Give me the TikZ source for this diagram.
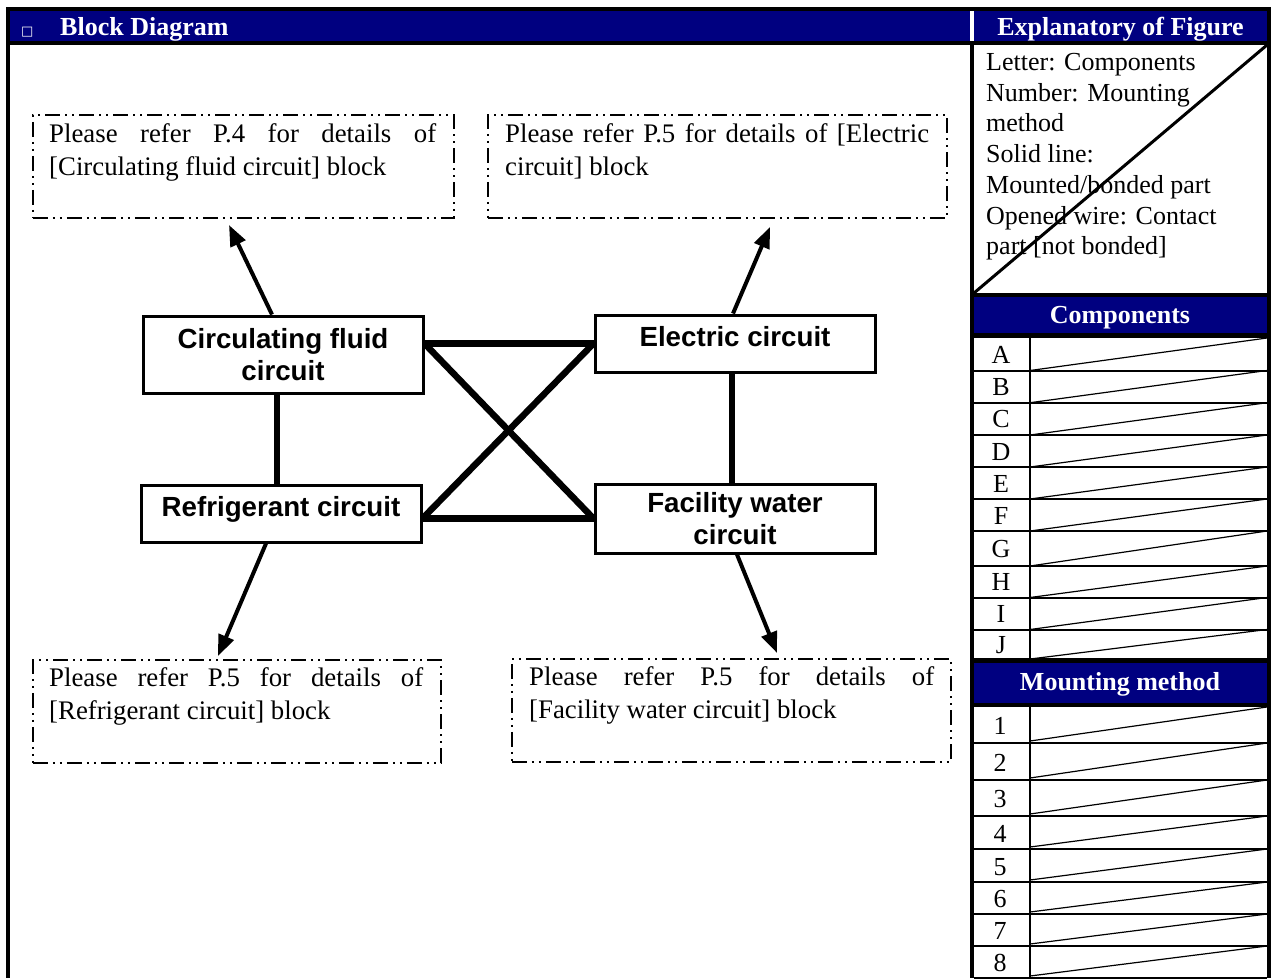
\documentclass[tikz,border=0pt]{standalone}
\usepackage{fontspec}
\setmainfont{Liberation Serif}
\newfontfamily\blockfont{Liberation Sans}
\newfontfamily\symfont{DejaVu Sans}
\usetikzlibrary{arrows.meta,calc}
\definecolor{navy}{RGB}{0,0,128}
\tikzset{
  serif/.style={font=\fontsize{26.8}{33.5}\selectfont, inner sep=0pt},
  headtext/.style={font=\fontsize{26}{30}\selectfont\bfseries, text=white, inner sep=0pt},
  blockbox/.style={draw, line width=3pt, font=\fontsize{27.7}{32.3}\selectfont\blockfont\bfseries, align=center, minimum width=280pt, inner sep=0pt},
  oneline/.style={text height=20pt, text depth=15pt},
  link/.style={line width=6.5pt},
  outarrow/.style={line width=4pt, -{Triangle[length=21pt,width=16pt]}},
  refbox/.style={draw, line width=1.8pt, dash pattern=on 15pt off 5pt on 2pt off 5pt on 2pt off 5pt, anchor=north west, inner sep=0pt, minimum height=103pt},
  reftext/.style={serif, anchor=base west, align=justify},
  celltext/.style={font=\fontsize{26}{30}\selectfont, inner sep=0pt, anchor=base},
  sepline/.style={line width=2pt},
  diagline/.style={line width=1.2pt}
}
\begin{document}
\begin{tikzpicture}[x=1pt,y=-1pt]
\useasboundingbox (0,0) rectangle (1274,978);
% frame and header bands
\fill[black] (6,7) rectangle (1271,11);
\fill[navy] (10,11) rectangle (969.5,41);
\fill[navy] (973.5,11) rectangle (1267,41);
\fill[black] (6,41) rectangle (1271,45);
\fill[black] (6,7) rectangle (10,978);
\fill[black] (1267,7) rectangle (1271,978);
\fill[black] (970,45) rectangle (974,978);
\node[anchor=base west, inner sep=0pt, text=white, font=\fontsize{13}{15}\selectfont\symfont] (sq) at (21,35) {□};
\node[headtext, anchor=base west] (title) at (60,35) {Block Diagram};
\node[headtext, anchor=base] (explh) at (1120.5,35) {Explanatory of Figure};
% explanatory box
\draw[line width=3pt] (974,293) -- (1267,45);
\foreach \txt/\yy [count=\i] in {{Letter: Components}/70, {Number: Mounting}/101, {method}/131, {Solid line:}/162, {Mounted/bonded part}/193, {Opened wire: Contact}/224, {part [not bonded]}/254}
  \node[celltext, anchor=base west] (ex\i) at (986,\yy) {\txt};
\fill[black] (970,293) rectangle (1271,297);
\fill[navy] (974,297) rectangle (1267,333);
\fill[black] (970,333) rectangle (1271,338);
\node[headtext, anchor=base] (comph) at (1120,323.5) {Components};
% components table
\foreach \t/\b/\l in {338/370.5/A, 370.5/402.7/B, 402.7/435/C, 435/467/D, 467/499/E, 499/531/F, 531/566/G, 566/597.5/H, 597.5/629.5/I, 629.5/659/J}{
  \draw[sepline] (974,\b) -- (1267,\b);
  \draw[diagline] (1030,\b) -- (1267,\t);
  \node[celltext] (c\l) at (1001,{(\t+\b)/2+9}) {\l};
}
\draw[sepline] (1030,338) -- (1030,659);
\fill[black] (970,659) rectangle (1271,663);
\fill[navy] (974,663) rectangle (1267,703);
\fill[black] (970,703) rectangle (1271,707);
\node[headtext, anchor=base] (mounth) at (1120,690) {Mounting method};
% mounting table
\foreach \t/\b/\l in {707/743/1, 743/780/2, 780/816/3, 816/849/4, 849/882/5, 882/914/6, 914/946/7, 946/978/8}{
  \draw[sepline] (974,\b) -- (1267,\b);
  \draw[diagline] (1030,\b-2) -- (1267,\t);
  \node[celltext] (m\l) at (1000,{(\t+\b)/2+9.5}) {\l};
}
\draw[sepline] (1030,707) -- (1030,978);
% reference boxes
\node[refbox, minimum width=421pt] (B1) at (32,114) {};
\node[reftext, text width=387pt] (T1) at (49,142) {Please refer P.4 for details of\linebreak[4] [Circulating fluid circuit] block};
\node[refbox, minimum width=459pt] (B2) at (487,114) {};
\node[reftext, text width=424pt] (T2) at (505,142) {Please refer P.5 for details of [Electric\linebreak[4] circuit] block};
\node[refbox, minimum width=408pt] (B3) at (32,659) {};
\node[reftext, text width=374pt] (T3) at (49,686) {Please refer P.5 for details of\linebreak[4] [Refrigerant circuit] block};
\node[refbox, minimum width=439pt] (B4) at (511,658) {};
\node[reftext, text width=405pt] (T4) at (529,685) {Please refer P.5 for details of\linebreak[4] [Facility water circuit] block};
% blocks
\node[blockbox, minimum height=77pt] (CF) at (283,354.5) {Circulating fluid\\circuit};
\node[blockbox, oneline, minimum height=57pt] (EC) at (735,343.5) {Electric circuit};
\node[blockbox, oneline, minimum height=57pt] (RC) at (281,513.5) {Refrigerant circuit};
\node[blockbox, minimum height=69pt] (FW) at (735,518.5) {Facility water\\circuit};
% links
\draw[link] (CF.east |- EC.west) -- (EC.west);
\draw[link] (RC.east |- FW.west) -- (FW.west);
\draw[link] (CF.east |- EC.west) -- (FW.west);
\draw[link] (RC.east |- FW.west) -- (EC.west);
\draw[link] ([xshift=-6pt]CF.south) -- ([xshift=-6pt]CF.south |- RC.north);
\draw[link] ([xshift=-3pt]EC.south) -- ([xshift=-3pt]EC.south |- FW.north);
% arrows
\coordinate (t1) at (229,225);
\coordinate (t2) at (770,227);
\coordinate (t3) at (218,656);
\coordinate (t4) at (777,653);
\draw[outarrow] ([xshift=-11pt]CF.north) -- (t1);
\draw[outarrow] ([xshift=-2pt]EC.north) -- (t2);
\draw[outarrow] ([xshift=-15pt]RC.south) -- (t3);
\draw[outarrow] ([xshift=2pt]FW.south) -- (t4);
\end{tikzpicture}
\end{document}
